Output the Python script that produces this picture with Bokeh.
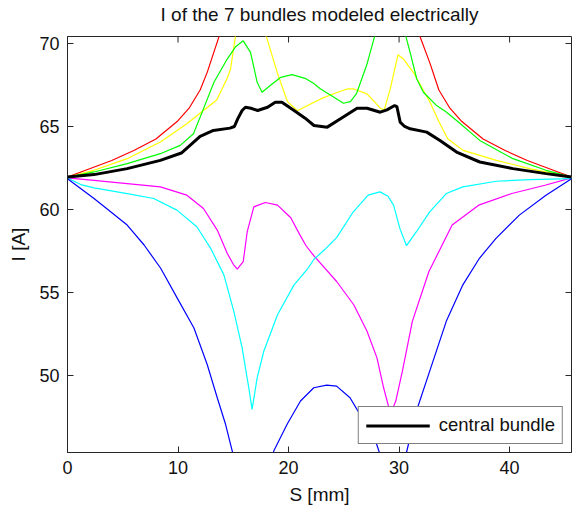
import math
from bokeh.plotting import figure
from bokeh.models import Range1d, FixedTicker, Legend, LegendItem, LinearAxis
from bokeh.embed import file_html
from bokeh.resources import INLINE

# ---------------- data ----------------
title_text = "I of the 7 bundles modeled electrically"
x_label = "S [mm]"
y_label = "I [A]"
x_ticks = [0, 10, 20, 30, 40]
y_ticks = [50, 55, 60, 65, 70]
x_limits = [0, 45.6]
y_limits = [45.36, 70.42]

red_x = [0, 2, 4, 6, 8, 10, 11, 12, 12.64, 13.7, 15, 17, 20, 22.8, 25.6, 28.6, 30.6,
         31.9, 32.8, 33.6, 34.6, 35.6, 37.6, 39.6, 41.6, 43.6, 45.6]
red_y = [61.95, 62.45, 62.95, 63.55, 64.25, 65.35, 66.1, 67.2, 68.26, 70.4, 73.5, 77.5, 79.5, 80.0, 79.5, 77.5, 73.5,
         70.4, 68.8, 67.2, 66.1, 65.35, 64.25, 63.55, 62.95, 62.45, 61.95]

yellow_x = [0, 2.4, 5.4, 8.4, 10.8, 12.3, 13.5, 14.45, 14.75, 15.2, 16.5, 18.0, 19.0, 19.9, 20.8,
            22.0, 22.9, 24.2, 25.3, 25.9, 27.1, 28.3, 28.66, 29.2, 29.9, 30.4, 31.3, 32.8, 33.6,
            34.4, 35.8, 38.8, 41.8, 45.6]
yellow_y = [61.95, 62.36, 63.06, 64.06, 65.16, 65.96, 66.6, 67.9, 68.46, 70.46, 72.0, 70.4, 68.2, 66.5, 65.95,
            66.35, 66.66, 67.0, 67.26, 67.26, 66.96, 66.1, 66.0, 67.26, 69.32, 69.06, 68.25, 66.46, 65.3,
            64.26, 63.56, 62.96, 62.46, 61.95]

green_x = [0, 2.4, 5.4, 8.4, 10.2, 11.4, 12.3, 13.25, 14.45, 15.2, 15.9, 16.56, 17.16, 17.6, 18.4,
           19.3, 20.3, 21.5, 22.25, 22.9, 24.0, 24.96, 25.6, 26.16, 27.07, 27.8, 29.2, 30.6, 31.0,
           31.6, 32.2, 33.4, 34.3, 35.2, 37.3, 40.3, 43.3, 45.6]
green_y = [61.95, 62.26, 62.76, 63.36, 63.86, 64.56, 66.06, 67.66, 69.06, 69.8, 70.16, 69.46, 67.66, 67.06, 67.5,
           67.96, 68.12, 67.9, 67.6, 67.26, 66.8, 66.4, 66.5, 67.0, 68.7, 70.46, 72.0, 70.46, 69.46,
           67.86, 67.06, 66.26, 65.86, 65.36, 64.16, 63.06, 62.36, 61.95]

black_x = [0, 2.4, 5.4, 8.4, 10.3, 12.0, 13.2, 14.7, 15.1, 15.4, 15.8, 16.1, 16.6, 17.2, 18.1, 18.8,
           19.4, 20.5, 21.5, 22.3, 23.5, 24.7, 26.2, 27.1, 28.3, 28.9, 29.6, 29.8, 30.1, 30.5, 31.0,
           32.5, 33.7, 35.2, 37.3, 40.3, 43.3, 45.6]
black_y = [61.95, 62.1, 62.46, 62.96, 63.4, 64.4, 64.76, 64.9, 65.0, 65.46, 65.96, 66.16, 66.1, 65.96, 66.16, 66.46,
           66.46, 65.96, 65.5, 65.06, 64.96, 65.46, 66.1, 66.1, 65.86, 66.0, 66.26, 66.2, 65.26, 65.0, 64.86,
           64.66, 64.16, 63.46, 62.86, 62.46, 62.16, 61.95]

magenta_x = [0, 2.4, 5.4, 8.4, 10.8, 12.3, 13.55, 14.45, 15.0, 15.36, 15.9, 16.26, 16.86, 17.9, 19.0,
             20.2, 21.0, 21.6, 22.3, 24.35, 25.9, 27.1, 28.0, 28.6, 29.1, 29.3, 29.7, 30.3, 31.2,
             32.7, 34.8, 37.2, 40.2, 43.2, 45.6]
magenta_y = [61.9, 61.75, 61.56, 61.36, 60.86, 60.06, 58.76, 57.36, 56.7, 56.4, 56.86, 58.66, 60.16, 60.42, 60.26,
             59.5, 58.5, 57.8, 57.2, 55.66, 54.26, 52.66, 51.06, 49.26, 48.0, 47.8, 48.46, 50.26, 53.26,
             56.26, 59.06, 60.26, 60.96, 61.46, 61.9]

cyan_x = [0, 1.2, 2.4, 5.4, 7.8, 9.9, 11.7, 12.95, 14.15, 15.05, 15.8, 16.4, 16.7, 17.16, 17.76, 19.0, 20.5,
          21.7, 22.3, 23.3, 24.35, 25.86, 27.2, 28.27, 29.0, 29.5, 30.07, 30.67, 31.57, 32.77, 34.27,
          35.77, 38.8, 41.8, 45.6]
cyan_y = [61.9, 61.5, 61.3, 60.96, 60.66, 59.96, 58.96, 57.66, 56.06, 53.86, 51.66, 49.26, 47.96, 49.86, 51.46, 53.66, 55.46,
          56.4, 57.0, 57.6, 58.3, 59.86, 60.86, 61.06, 60.8, 60.26, 58.86, 57.82, 58.66, 59.86, 60.96,
          61.36, 61.7, 61.8, 61.86]

blue_x = [0, 2.4, 5.4, 6.93, 8.43, 9.93, 11.44, 12.64, 13.55, 14.3, 14.9, 15.6, 16.5, 17.5, 18.2, 18.67,
          19.87, 21.08, 22.28, 23.45, 24.35, 25.56, 26.46, 27.3, 27.97, 28.3, 29.2, 30.2, 30.67, 31.57,
          32.77, 34.27, 35.77, 37.27, 38.77, 40.88, 43.29, 45.6]
blue_y = [61.85, 60.66, 59.06, 57.86, 56.46, 54.66, 52.86, 50.66, 48.66, 47.06, 45.46, 44.0, 43.0, 43.5, 44.5, 45.46,
          47.06, 48.46, 49.26, 49.42, 49.36, 48.66, 47.66, 46.6, 45.86, 45.2, 43.5, 44.0, 45.36, 47.86,
          50.26, 53.26, 55.46, 57.06, 58.26, 59.66, 60.86, 61.85]

legend_label = "central bundle"

# ---------------- figure ----------------
FONT = "Liberation Sans"
TXT = "#111111"
AX = "#262626"

p = figure(width=573, height=512, output_backend="svg", toolbar_location=None,
           x_range=Range1d(*x_limits), y_range=Range1d(*y_limits),
           min_border_left=67, min_border_right=2, min_border_top=35, min_border_bottom=60)
p.grid.visible = False
p.outline_line_color = AX
p.background_fill_color = "white"
p.border_fill_color = "white"

bottom_axis = p.below[0]
left_axis = p.left[0]
for ax, ticks, lab in ((bottom_axis, x_ticks, x_label), (left_axis, y_ticks, y_label)):
    ax.ticker = FixedTicker(ticks=ticks)
    ax.axis_label = lab
    ax.major_tick_in = 6
    ax.major_tick_out = 0
    ax.minor_tick_in = 0
    ax.minor_tick_out = 0
    ax.axis_line_color = AX
    ax.major_tick_line_color = AX
    ax.major_label_text_font = FONT
    ax.major_label_text_font_size = "18px"
    ax.major_label_text_color = TXT
    ax.major_label_standoff = 8
    ax.axis_label_text_font = FONT
    ax.axis_label_text_font_size = "19px"
    ax.axis_label_text_font_style = "normal"
    ax.axis_label_text_color = TXT
    ax.axis_label_standoff = 7

# title: carried by a tick-less axis above the box so it sits close to the top edge
title_axis = LinearAxis(ticker=FixedTicker(ticks=[]), axis_label=title_text,
                        axis_line_color=None, major_tick_line_color=None, minor_tick_line_color=None,
                        major_tick_in=0, major_tick_out=0, minor_tick_in=0, minor_tick_out=0,
                        major_label_standoff=0, axis_label_standoff=12,
                        axis_label_text_font=FONT, axis_label_text_font_size="19px",
                        axis_label_text_font_style="normal", axis_label_text_color=TXT)
p.add_layout(title_axis, "above")

# inward ticks on the top and right edges of the box (half of each dash is clipped by the frame)
p.scatter(x_ticks, [y_limits[1]] * len(x_ticks), marker="dash", angle=math.pi / 2, size=12,
          line_color=AX, line_width=1)
p.scatter([x_limits[1]] * len(y_ticks), y_ticks, marker="dash", size=12,
          line_color=AX, line_width=1)

W = 1.2
p.line(red_x, red_y, line_color="#ff0000", line_width=W)
p.line(yellow_x, yellow_y, line_color="#ffff00", line_width=W)
p.line(green_x, green_y, line_color="#00ff00", line_width=W)
p.line(magenta_x, magenta_y, line_color="#ff00ff", line_width=W)
p.line(cyan_x, cyan_y, line_color="#00ffff", line_width=W)
p.line(blue_x, blue_y, line_color="#0000ff", line_width=W)
r_black = p.line(black_x, black_y, line_color="black", line_width=3)

legend = Legend(items=[LegendItem(label=legend_label, renderers=[r_black])],
                location="bottom_right", margin=8, padding=7, spacing=0,
                glyph_width=64, glyph_height=17, label_height=17, label_standoff=9,
                label_text_font=FONT, label_text_font_size="18.5px", label_text_color=TXT,
                border_line_color="black", border_line_width=1,
                background_fill_color="white", background_fill_alpha=1.0)
p.add_layout(legend)

open("out.html", "w").write(file_html(p, INLINE))
